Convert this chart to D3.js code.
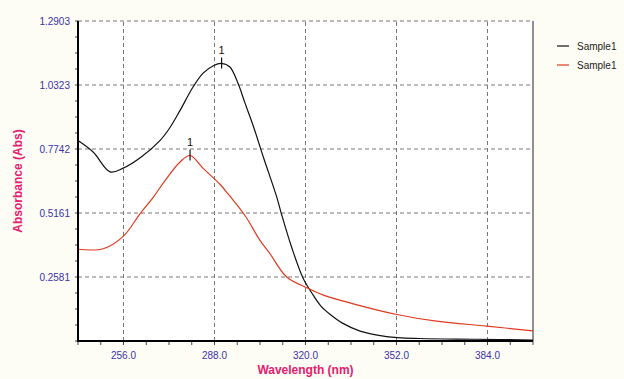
<!DOCTYPE html>
<html>
  <head>
    <meta charset="utf-8" />
    <script src="https://d3js.org/d3.v7.min.js"></script>
    <style>
      body { margin: 0; background: #fdfdf5; }
      text { font-family: "Liberation Sans", Arial, sans-serif; }
      .grid line { stroke: #777; stroke-dasharray: 4,3; stroke-width: 1; }
      .tick-label { fill: #3a32a8; font-size: 10px; }
      .axis-title { fill: #e2206e; font-size: 12px; font-weight: bold; }
      .legend text { font-size: 10px; fill: #222; }
    </style>
  </head>
  <body>

    <svg id="chart" width="624" height="379"></svg>

    <script>

      // wavelength (nm) / absorbance for each trace
      var blackWl  = [240, 245.4, 251.3, 255.9, 262, 268.8, 272.3, 275.9, 280.5, 284.0, 287.6, 290.5, 293.4, 296.4, 298.7, 301.6, 305.2, 309.9, 311.6, 315.1, 319.2, 322.7, 325.5, 328.6, 333, 339.2, 348.5, 360.3, 380.2, 400];
      var blackAbs = [0.808, 0.761, 0.682, 0.697, 0.740, 0.808, 0.860, 0.930, 1.025, 1.080, 1.110, 1.119, 1.105, 1.035, 0.960, 0.868, 0.741, 0.580, 0.510, 0.379, 0.252, 0.185, 0.140, 0.108, 0.072, 0.040, 0.018, 0.010, 0.007, 0.004];

      var redWl  = [240, 248.9, 255.9, 261.8, 266.5, 270.6, 275.9, 279.4, 284.1, 289.9, 293.0, 298.7, 304.0, 307.5, 313.4, 320.4, 326.3, 336.8, 352.1, 366.1, 383.7, 400];
      var redAbs = [0.370, 0.372, 0.422, 0.513, 0.580, 0.647, 0.722, 0.748, 0.695, 0.632, 0.590, 0.506, 0.406, 0.352, 0.258, 0.215, 0.185, 0.150, 0.107, 0.080, 0.060, 0.041];

      var xTicks = [256, 288, 320, 352, 384];
      var yTicks = [0.2581, 0.5161, 0.7742, 1.0323, 1.2903];

      var seriesNames  = ["Sample1", "Sample1"];
      var seriesColors = ["#111111", "#e0381e"];

      var margin = { left: 78, top: 21, right: 91, bottom: 38 };
      var width = 624 - margin.left - margin.right;
      var height = 379 - margin.top - margin.bottom;

      var svg = d3.select("#chart");

      var x = d3.scaleLinear().domain([240, 400]).range([margin.left, margin.left + width]);
      var y = d3.scaleLinear().domain([0, 1.2903]).range([margin.top + height, margin.top]);

      // plot background
      svg.append("rect")
        .attr("x", x(240)).attr("y", y(1.2903))
        .attr("width", width).attr("height", height)
        .attr("fill", "#ffffff");

      // dashed grid
      var grid = svg.append("g").attr("class", "grid");
      grid.selectAll(".vg").data(xTicks).enter().append("line")
        .attr("x1", function(d) { return x(d); })
        .attr("x2", function(d) { return x(d); })
        .attr("y1", y(0)).attr("y2", y(1.2903));
      grid.selectAll(".hg").data(yTicks).enter().append("line")
        .attr("x1", x(240)).attr("x2", x(400))
        .attr("y1", function(d) { return y(d); })
        .attr("y2", function(d) { return y(d); });

      // right border
      svg.append("line")
        .attr("x1", x(400)).attr("x2", x(400))
        .attr("y1", y(0)).attr("y2", y(1.2903))
        .attr("stroke", "#222").attr("stroke-width", 1);

      // minor ticks
      var xMinor = d3.range(240, 400.1, 8);
      svg.selectAll(".xm").data(xMinor).enter().append("line")
        .attr("x1", function(d) { return x(d); })
        .attr("x2", function(d) { return x(d); })
        .attr("y1", y(0)).attr("y2", y(0) + 4)
        .attr("stroke", "#444");
      var yMinor = d3.range(0, 1.3, 1.2903 / 20);
      svg.selectAll(".ym").data(yMinor).enter().append("line")
        .attr("x1", x(240) - 3).attr("x2", x(240))
        .attr("y1", function(d) { return y(d); })
        .attr("y2", function(d) { return y(d); })
        .attr("stroke", "#444");

      // tick labels
      svg.selectAll(".xl").data(xTicks).enter().append("text")
        .attr("class", "tick-label")
        .attr("x", function(d) { return x(d); })
        .attr("y", y(0) + 18)
        .attr("text-anchor", "middle")
        .text(function(d) { return d.toFixed(1); });
      svg.selectAll(".yl").data(yTicks).enter().append("text")
        .attr("class", "tick-label")
        .attr("x", x(240) - 8)
        .attr("y", function(d) { return y(d) + 4; })
        .attr("text-anchor", "end")
        .text(function(d) { return d.toFixed(4); });

      // axis titles
      svg.append("text")
        .attr("class", "axis-title")
        .attr("x", x(320)).attr("y", 374)
        .attr("text-anchor", "middle")
        .text("Wavelength (nm)");
      svg.append("text")
        .attr("class", "axis-title")
        .attr("transform", "translate(22," + (margin.top + height / 2) + ") rotate(-90)")
        .attr("text-anchor", "middle")
        .text("Absorbance (Abs)");

      // traces
      var series = [
        { wl: blackWl, abs: blackAbs, color: seriesColors[0] },
        { wl: redWl, abs: redAbs, color: seriesColors[1] }
      ];

      var line = d3.line()
        .x(function(d) { return x(d[0]); })
        .y(function(d) { return y(d[1]); })
        .curve(d3.curveCatmullRom.alpha(0.5));

      series.forEach(function(s) {
        var pts = d3.zip(s.wl, s.abs);
        svg.append("path")
          .datum(pts)
          .attr("fill", "none")
          .attr("stroke", s.color)
          .attr("stroke-width", 1.2)
          .attr("d", line);

        // peak marker
        var i = d3.maxIndex(s.abs);
        var px = x(s.wl[i]), py = y(s.abs[i]);
        svg.append("line")
          .attr("x1", px).attr("x2", px)
          .attr("y1", py - 6).attr("y2", py + 5)
          .attr("stroke", "#111").attr("stroke-width", 1.2);
        svg.append("text")
          .attr("x", px).attr("y", py - 9)
          .attr("text-anchor", "middle")
          .attr("font-size", 11)
          .attr("fill", "#111")
          .text("1");
      });

      // axis lines (thick left and bottom)
      svg.append("line")
        .attr("x1", x(240)).attr("x2", x(240))
        .attr("y1", y(1.2903)).attr("y2", y(0) + 1)
        .attr("stroke", "#000").attr("stroke-width", 2);
      svg.append("line")
        .attr("x1", x(240) - 1).attr("x2", x(400))
        .attr("y1", y(0)).attr("y2", y(0))
        .attr("stroke", "#000").attr("stroke-width", 2);

      // legend
      var legend = svg.append("g").attr("class", "legend");
      seriesNames.forEach(function(name, i) {
        var ly = 46 + i * 19;
        legend.append("line")
          .attr("x1", 557).attr("x2", 569)
          .attr("y1", ly).attr("y2", ly)
          .attr("stroke", seriesColors[i]).attr("stroke-width", 1.2);
        legend.append("text")
          .attr("x", 577).attr("y", ly + 4)
          .text(name);
      });

    </script>

  </body>
</html>
